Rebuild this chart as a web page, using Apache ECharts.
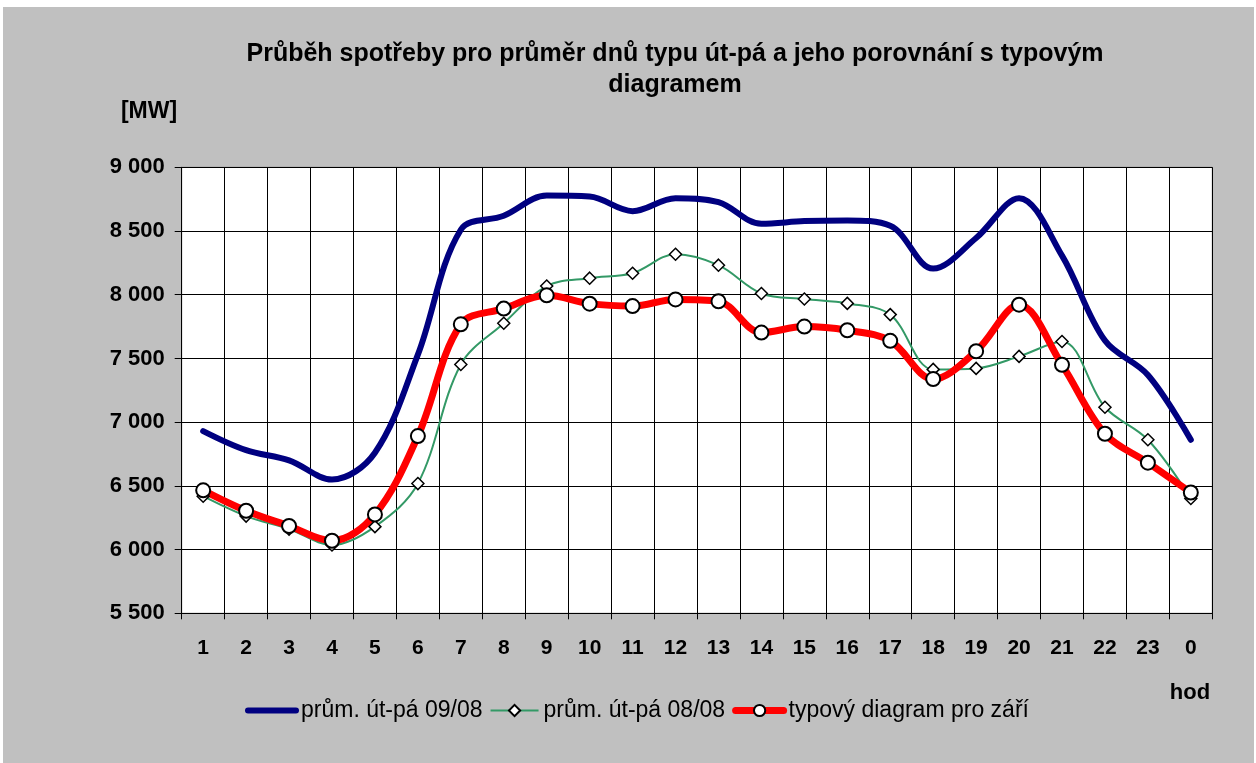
<!DOCTYPE html>
<html>
<head>
<meta charset="utf-8">
<script src="https://cdn.jsdelivr.net/npm/echarts@6/dist/echarts.min.js"></script>
<style>
html,body{margin:0;padding:0;background:#fff;}
#c{width:1256px;height:763px;}
</style>
</head>
<body>
<div id="c"></div>
<script>
var hours = ['1','2','3','4','5','6','7','8','9','10','11','12','13','14','15','16','17','18','19','20','21','22','23','0'];
var prum0908 = [6930, 6780, 6700, 6550, 6760, 7530, 8510, 8620, 8778, 8770, 8656, 8758, 8727, 8557, 8578, 8583, 8541, 8205, 8445, 8758, 8307, 7640, 7370, 6862];
var prum0808 = [6419, 6263, 6161, 6036, 6180, 6518, 7453, 7776, 8068, 8130, 8169, 8318, 8232, 8010, 7966, 7932, 7844, 7414, 7422, 7516, 7633, 7117, 6862, 6401];
var typovy = [6465, 6305, 6185, 6070, 6276, 6891, 7768, 7891, 7995, 7930, 7911, 7963, 7948, 7703, 7750, 7721, 7638, 7338, 7557, 7922, 7450, 6909, 6682, 6448];
var seriesNames = ['prům. út-pá 09/08', 'prům. út-pá 08/08', 'typový diagram pro září'];
var titleLines = ['Průběh spotřeby pro průměr dnů typu út-pá a jeho porovnání s typovým', 'diagramem'];
var yUnit = '[MW]';
var xUnit = 'hod';

var FONT = '"Liberation Sans", Arial, sans-serif';
var chart = echarts.init(document.getElementById('c'), null, {renderer: 'canvas'});
function fmt(v){ var s = String(v); return s.length > 3 ? s.slice(0, s.length-3) + ' ' + s.slice(-3) : s; }

chart.setOption({
  animation: false,
  backgroundColor: 'transparent',
  textStyle: {fontFamily: FONT},
  graphic: [
    {type: 'rect', z: -10, silent: true, shape: {x: 3, y: 7, width: 1251, height: 756}, style: {fill: '#C0C0C0'}},
    {type: 'text', z: 10, style: {text: titleLines[0], x: 675, y: 54, textAlign: 'center', textVerticalAlign: 'middle', font: 'bold 25px ' + FONT, fill: '#000'}},
    {type: 'text', z: 10, style: {text: titleLines[1], x: 675, y: 85, textAlign: 'center', textVerticalAlign: 'middle', font: 'bold 25px ' + FONT, fill: '#000'}},
    {type: 'text', z: 10, style: {text: yUnit, x: 149, y: 112, textAlign: 'center', textVerticalAlign: 'middle', font: 'bold 23px ' + FONT, fill: '#000'}},
    {type: 'text', z: 10, style: {text: xUnit, x: 1190, y: 693, textAlign: 'center', textVerticalAlign: 'middle', font: 'bold 22px ' + FONT, fill: '#000'}}
  ],
  grid: {left: 181.7, right: 43.7, top: 167.3, bottom: 149.7, show: true, backgroundColor: '#fff', borderColor: '#808080', borderWidth: 1},
  legend: {
    left: 245, top: 699, padding: 0, itemWidth: 48, itemHeight: 14, itemGap: 7,
    textStyle: {fontSize: 23, color: '#000', fontFamily: FONT},
    data: [
      {name: seriesNames[0], itemStyle: {opacity: 0, color: 'transparent', borderColor: 'transparent', borderWidth: 0}, lineStyle: {width: 6, color: '#000080', cap: 'round'}},
      {name: seriesNames[1], lineStyle: {width: 2, color: '#339966'}},
      {name: seriesNames[2], lineStyle: {width: 7, color: '#FF0000'}}
    ]
  },
  xAxis: {
    type: 'category', data: hours, boundaryGap: true,
    axisLine: {lineStyle: {color: '#000', width: 1}},
    axisTick: {show: true, inside: false, length: 6, lineStyle: {color: '#000'}},
    axisLabel: {margin: 24, fontSize: 21, fontWeight: 'bold', color: '#000', fontFamily: FONT},
    splitLine: {show: true, lineStyle: {color: '#000', width: 1}}
  },
  yAxis: {
    type: 'value', min: 5500, max: 9000, interval: 500,
    axisLine: {show: true, lineStyle: {color: '#000', width: 1}},
    axisTick: {show: true, inside: false, length: 7, lineStyle: {color: '#000'}},
    axisLabel: {margin: 17, fontSize: 22, fontWeight: 'bold', color: '#000', fontFamily: FONT, formatter: fmt},
    splitLine: {show: true, lineStyle: {color: '#000', width: 1}}
  },
  series: [
    {name: seriesNames[0], type: 'line', data: prum0908, smooth: 0.35, symbol: 'none',
     lineStyle: {color: '#000080', width: 6, cap: 'round', join: 'round'}, itemStyle: {color: '#000080'}},
    {name: seriesNames[1], type: 'line', data: prum0808, smooth: 0.35, symbol: 'diamond', symbolSize: 12,
     lineStyle: {color: '#339966', width: 2}, itemStyle: {color: '#fff', borderColor: '#000', borderWidth: 1.5}},
    {name: seriesNames[2], type: 'line', data: typovy, smooth: 0.35, symbol: 'circle', symbolSize: 14,
     lineStyle: {color: '#FF0000', width: 7, cap: 'round', join: 'round'}, itemStyle: {color: '#fff', borderColor: '#000', borderWidth: 2}}
  ]
});
</script>
</body>
</html>
